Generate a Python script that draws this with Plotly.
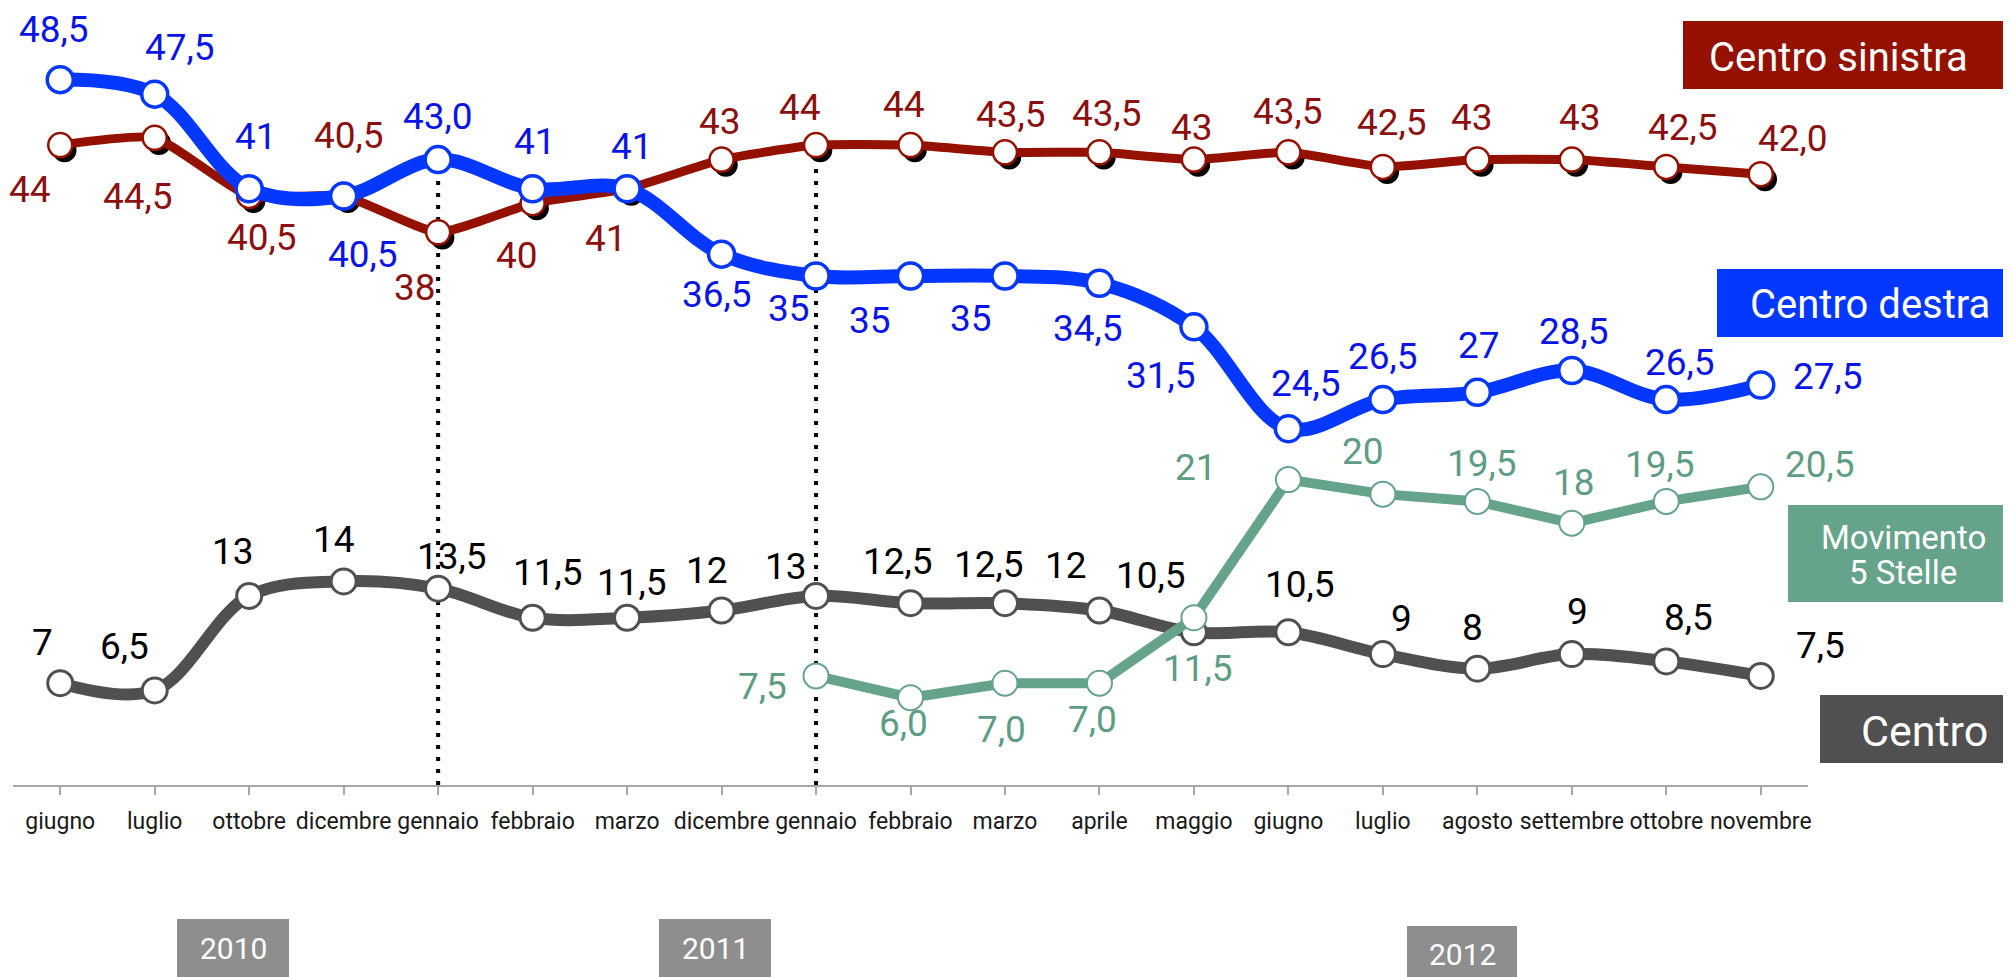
import plotly.graph_objects as go

# ---------------- data ----------------
months = ["giugno", "luglio", "ottobre", "dicembre", "gennaio", "febbraio", "marzo",
          "dicembre", "gennaio", "febbraio", "marzo", "aprile", "maggio", "giugno",
          "luglio", "agosto", "settembre", "ottobre", "novembre"]

centro_sinistra = [44, 44.5, 40.5, 40.5, 38, 40, 41, 43, 44, 44, 43.5, 43.5, 43, 43.5,
                   42.5, 43, 43, 42.5, 42.0]
centro_sinistra_lbl = ["44", "44,5", "40,5", "40,5", "38", "40", "41", "43", "44", "44",
                       "43,5", "43,5", "43", "43,5", "42,5", "43", "43", "42,5", "42,0"]

centro_destra = [48.5, 47.5, 41, 40.5, 43.0, 41, 41, 36.5, 35, 35, 35, 34.5, 31.5, 24.5,
                 26.5, 27, 28.5, 26.5, 27.5]
centro_destra_lbl = ["48,5", "47,5", "41", "40,5", "43,0", "41", "41", "36,5", "35", "35",
                     "35", "34,5", "31,5", "24,5", "26,5", "27", "28,5", "26,5", "27,5"]

centro = [7, 6.5, 13, 14, 13.5, 11.5, 11.5, 12, 13, 12.5, 12.5, 12, 10.5, 10.5, 9, 8, 9,
          8.5, 7.5]
centro_lbl = ["7", "6,5", "13", "14", "13,5", "11,5", "11,5", "12", "13", "12,5", "12,5",
              "12", "10,5", "10,5", "9", "8", "9", "8,5", "7,5"]

m5s = [None] * 8 + [7.5, 6.0, 7.0, 7.0, 11.5, 21, 20, 19.5, 18, 19.5, 20.5]
m5s_lbl = [""] * 8 + ["7,5", "6,0", "7,0", "7,0", "11,5", "21", "20", "19,5", "18", "19,5",
                      "20,5"]

years = ["2010", "2011", "2012"]
series_names = ["Centro sinistra", "Centro destra", "Movimento", "5 Stelle", "Centro"]
dotted_at = [4, 8]  # indices of the "gennaio" separators

# ---------------- styles (label offsets in px: dx, dy with dy>0 = down) -------------
off_sin = [(-30, 44), (-17, 59), (13, 42), (5, -60), (-23, 55), (-16, 52), (-21, 50),
           (-2, -38), (-16, -38), (-7, -41), (6, -38), (8, -39), (-2, -32), (0, -41),
           (9, -44), (-5, -42), (8, -42), (17, -39), (32, -36)]
off_des = [(-6, -50), (25, -47), (7, -52), (19, 59), (0, -43), (2, -47), (5, -42),
           (-5, 40), (-27, 33), (-41, 45), (-34, 43), (-11, 45), (-33, 49), (18, -45),
           (0, -43), (2, -47), (2, -39), (14, -37), (67, -9)]
off_cen = [(-18, -41), (-30, -44), (-16, -44), (-10, -42), (14, -32), (15, -45), (5, -35),
           (-15, -40), (-30, -29), (-13, -42), (-16, -39), (-33, -45), (-43, -57),
           (12, -48), (19, -36), (-5, -41), (6, -43), (22, -44), (60, -30)]
off_m5s = [None] * 8 + [(-54, 11), (-7, 26), (-3, 46), (-7, 36), (4, 51), (-92, -12),
                        (-20, -43), (5, -38), (2, -41), (-6, -37), (59, -22)]

RED = "#941100"
RED_TXT = "#8B1010"
BLUE = "#0437FF"
BLUE_TXT = "#0A14E6"
GREY = "#505050"
GREEN = "#65A38B"
GREEN_TXT = "#5E9C84"
YEARBOX = "#8E8E8E"
FONT = "Roboto"
LBL_SIZE = 37

# page body has an 8px margin: figure drawn from (8, 8) on screen
PAGE_OFF = 8
W, H = 2011 - PAGE_OFF, 977 - PAGE_OFF
# plot area in screen pixels
L, R, T, B = 13, 1808, 20, 785
YMAX = 52.6


def px(x):
    return (x - L) / (R - L)


def py(y):
    return (B - y) / (B - T)


xs = list(range(len(months)))
fig = go.Figure()

# shadow of the centro-sinistra markers
fig.add_trace(go.Scatter(
    x=[i + 0.045 for i in xs], y=[v - 0.35 for v in centro_sinistra], mode="markers",
    marker=dict(size=24, color="black"), hoverinfo="skip"))

fig.add_trace(go.Scatter(
    x=xs, y=centro_sinistra, mode="lines+markers", name="Centro sinistra",
    line=dict(color=RED, width=9, shape="spline", smoothing=0.5),
    marker=dict(size=24, color="white", line=dict(color=RED, width=2.5))))

fig.add_trace(go.Scatter(
    x=xs, y=centro_destra, mode="lines+markers", name="Centro destra",
    line=dict(color=BLUE, width=14, shape="spline", smoothing=1.0),
    marker=dict(size=26, color="white", line=dict(color=BLUE, width=3.5))))

fig.add_trace(go.Scatter(
    x=xs, y=centro, mode="lines+markers", name="Centro",
    line=dict(color=GREY, width=12, shape="spline", smoothing=1.0),
    marker=dict(size=25, color="white", line=dict(color=GREY, width=3))))

fig.add_trace(go.Scatter(
    x=xs, y=m5s, mode="lines+markers", name="Movimento 5 Stelle",
    line=dict(color=GREEN, width=10),
    marker=dict(size=25, color="white", line=dict(color=GREEN, width=2))))

annotations = []


def add_labels(vals, lbls, offs, color, size):
    for i, (v, t, o) in enumerate(zip(vals, lbls, offs)):
        if v is None:
            continue
        annotations.append(dict(
            x=i, y=v, xref="x", yref="y", text=t, showarrow=False,
            xanchor="center", yanchor="middle", xshift=o[0], yshift=-o[1],
            font=dict(family=FONT, size=size, color=color)))


add_labels(centro_sinistra, centro_sinistra_lbl, off_sin, RED_TXT, LBL_SIZE)
add_labels(centro_destra, centro_destra_lbl, off_des, BLUE_TXT, LBL_SIZE)
add_labels(centro, centro_lbl, off_cen, "#000000", LBL_SIZE)
add_labels(m5s, m5s_lbl, off_m5s, GREEN_TXT, LBL_SIZE)

shapes = []
# dotted separators from the top series point down to the axis
for i in dotted_at:
    top = max(v for v in (centro_sinistra[i], centro_destra[i]) if v is not None)
    shapes.append(dict(type="line", xref="x", yref="y", x0=i, x1=i, y0=0, y1=top,
                       line=dict(color="black", width=4, dash="4px,8px"), layer="below"))

# legend boxes (screen pixel boxes) and their texts
boxes = [
    ((1683, 21, 2006, 89), RED, [(series_names[0], 1838, 57, 40)]),
    ((1717, 269, 2015, 337), BLUE, [(series_names[1], 1870, 304, 40)]),
    ((1788, 505, 2015, 602), GREEN, [(series_names[2], 1903, 537, 33),
                                     (series_names[3], 1903, 572, 33)]),
    ((1820, 695, 2015, 763), GREY, [(series_names[4], 1924, 731, 43)]),
    ((177, 919, 289, 985), YEARBOX, [(years[0], 233, 949, 30)]),
    ((659, 919, 771, 985), YEARBOX, [(years[1], 715, 949, 30)]),
    ((1407, 926, 1517, 985), YEARBOX, [(years[2], 1462, 954, 30)]),
]
for (x0, y0, x1, y1), col, texts in boxes:
    shapes.append(dict(type="rect", xref="paper", yref="paper",
                       x0=px(x0), x1=px(x1), y0=py(y1), y1=py(y0),
                       fillcolor=col, line=dict(width=0), layer="above"))
    for t, cx, cy, fs in texts:
        annotations.append(dict(
            x=px(cx), y=py(cy), xref="paper", yref="paper", text=t, showarrow=False,
            xanchor="center", yanchor="middle",
            font=dict(family=FONT, size=fs, color="white")))

fig.update_layout(
    width=W, height=H,
    margin=dict(l=L - PAGE_OFF, r=(W + PAGE_OFF) - R, t=T - PAGE_OFF,
                b=(H + PAGE_OFF) - B, pad=0),
    paper_bgcolor="white", plot_bgcolor="white",
    showlegend=False,
    shapes=shapes, annotations=annotations,
    xaxis=dict(range=[-0.5, len(months) - 0.5], tickvals=xs, ticktext=months,
               showgrid=False, zeroline=False, showline=True, linecolor="#A6A6A6",
               linewidth=2, ticks="outside", ticklen=8, tickwidth=2,
               tickcolor="#A6A6A6", ticklabelstandoff=6, tickangle=0,
               tickfont=dict(family=FONT, size=23, color="#1A1A1A")),
    yaxis=dict(range=[0, YMAX], visible=False, showgrid=False, zeroline=False),
)

fig.write_html("out.html")
